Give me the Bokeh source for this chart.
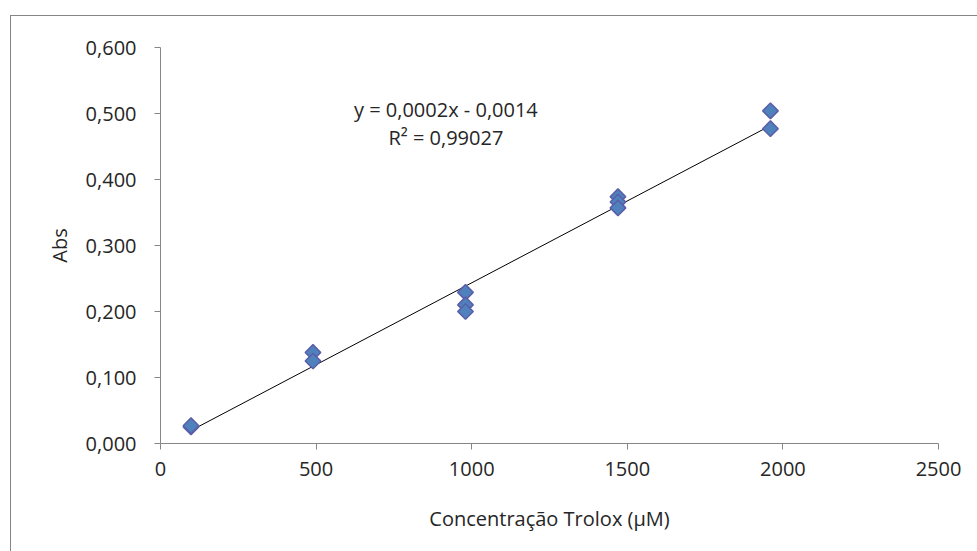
import numpy as np
from bokeh.plotting import figure
from bokeh.models import ColumnDataSource, Label, FixedTicker, Range1d
from bokeh.embed import file_html
from bokeh.resources import INLINE

# Data
conc = [98, 98, 490, 490, 980, 980, 980, 1470, 1470, 1470, 1960, 1960]
absorb = [0.025, 0.027, 0.138, 0.125, 0.229, 0.210, 0.200, 0.374, 0.366, 0.357, 0.504, 0.477]
x_ticks = [0, 500, 1000, 1500, 2000, 2500]
y_ticks = [0.0, 0.1, 0.2, 0.3, 0.4, 0.5, 0.6]
y_tick_labels = ["0,000", "0,100", "0,200", "0,300", "0,400", "0,500", "0,600"]
equation = "y = 0,0002x - 0,0014"
r2_text = "R² = 0,99027"
x_label = "Concentração Trolox (µM)"
y_label = "Abs"

FONT = "Open Sans"
TXT = "#262626"
AX = "#868686"
FS = "20px"

p = figure(width=967, height=536, output_backend="svg", toolbar_location=None,
           x_range=Range1d(0, 2500), y_range=Range1d(0, 0.6),
           min_border_left=149, min_border_right=40, min_border_top=31, min_border_bottom=109,
           margin=(15, 0, 0, 10))
p.styles = {"border-left": "1.5px solid #868686", "border-top": "1.5px solid #868686"}
p.outline_line_color = None
p.xgrid.grid_line_color = None
p.ygrid.grid_line_color = None
p.background_fill_color = "white"
p.border_fill_color = "white"

for ax in (p.xaxis[0], p.yaxis[0]):
    ax.axis_line_color = AX
    ax.major_tick_line_color = AX
    ax.minor_tick_line_color = None
    ax.major_tick_in = 0
    ax.major_tick_out = 6
    ax.major_label_text_font = FONT
    ax.major_label_text_font_size = FS
    ax.major_label_text_color = TXT
    ax.axis_label_text_font = FONT
    ax.axis_label_text_font_size = FS
    ax.axis_label_text_font_style = "normal"
    ax.axis_label_text_color = TXT

p.xaxis.ticker = FixedTicker(ticks=x_ticks)
p.yaxis.ticker = FixedTicker(ticks=y_ticks)
p.yaxis.major_label_overrides = {t: l for t, l in zip(y_ticks, y_tick_labels)}
p.xaxis.major_label_standoff = 12
p.yaxis.major_label_standoff = 18
p.xaxis.axis_label_standoff = 26
p.yaxis.axis_label_standoff = 10
p.xaxis.axis_label = x_label
p.yaxis.axis_label = y_label

# trend line (least squares)
xs = np.array(conc, dtype=float)
ys = np.array(absorb, dtype=float)
slope, intercept = np.polyfit(xs, ys, 1)
lx = np.array([xs.min(), xs.max()])
p.line(lx, slope * lx + intercept, line_color="black", line_width=1)

src = ColumnDataSource(dict(x=conc, y=absorb))
p.scatter("x", "y", source=src, marker="square", size=11, angle=np.pi / 4,
          fill_color="#4f81bd", line_color="#5b5ea8", line_width=1.5)

p.add_layout(Label(x=917, y=0.506, text=equation, text_align="center", text_baseline="middle",
                   text_font=FONT, text_font_size=FS, text_color=TXT))
p.add_layout(Label(x=917, y=0.463, text=r2_text, text_align="center", text_baseline="middle",
                   text_font=FONT, text_font_size=FS, text_color=TXT))

open("out.html", "w").write(file_html(p, INLINE))
